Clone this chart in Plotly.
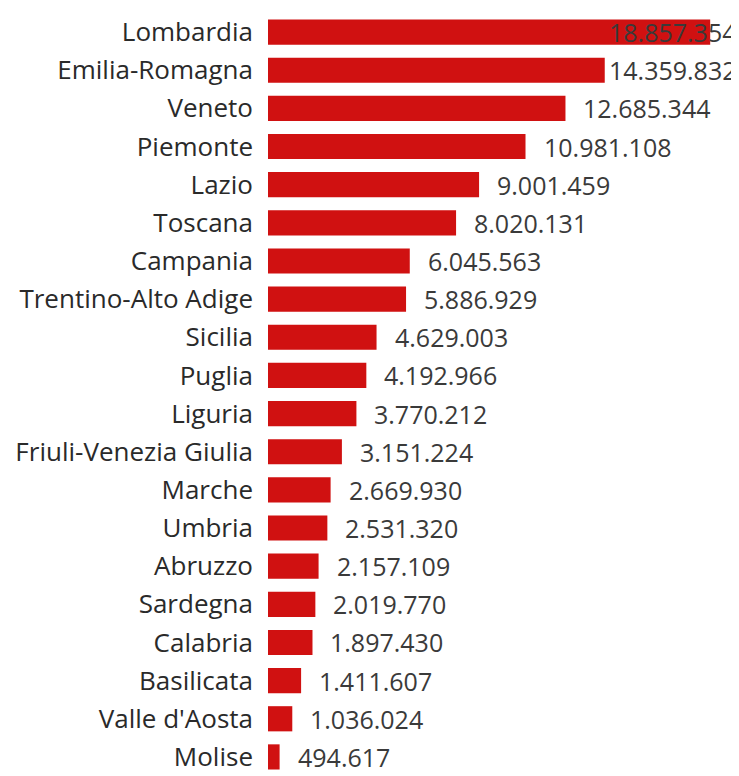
import plotly.graph_objects as go

regions = ["Lombardia", "Emilia-Romagna", "Veneto", "Piemonte", "Lazio", "Toscana",
           "Campania", "Trentino-Alto Adige", "Sicilia", "Puglia", "Liguria",
           "Friuli-Venezia Giulia", "Marche", "Umbria", "Abruzzo", "Sardegna",
           "Calabria", "Basilicata", "Valle d'Aosta", "Molise"]
values = [18857354, 14359832, 12685344, 10981108, 9001459, 8020131,
          6045563, 5886929, 4629003, 4192966, 3770212,
          3151224, 2669930, 2531320, 2157109, 2019770,
          1897430, 1411607, 1036024, 494617]

W, H = 731, 768
ML, MR, MT, MB = 260, 2, 5, 0
XMAX = 20.0e6
FONT = "Segoe UI, Open Sans, sans-serif"
FS = 25
CHAR_W = 13.0


def fmt(v):
    return f"{v:,}".replace(",", ".")


fig = go.Figure(go.Bar(
    x=values, y=regions, orientation="h",
    marker=dict(color="#d01111", line=dict(width=0)),
    width=0.66, hoverinfo="skip",
))

plot_w = W - ML - MR
annotations = []
for r, v in zip(regions, values):
    t = fmt(v)
    px = v / XMAX * plot_w
    if px + 16 + len(t) * CHAR_W > plot_w:
        annotations.append(dict(x=1, xref="paper", y=r, yref="y", text=t,
                                xanchor="right", xshift=2, showarrow=False,
                                font=dict(family=FONT, size=FS, color="#3a3a3a")))
    else:
        annotations.append(dict(x=v, xref="x", y=r, yref="y", text=t,
                                xanchor="left", xshift=16, showarrow=False,
                                font=dict(family=FONT, size=FS, color="#3a3a3a")))

fig.update_layout(
    width=W, height=H,
    margin=dict(l=ML, r=MR, t=MT, b=MB),
    paper_bgcolor="white", plot_bgcolor="white",
    showlegend=False,
    annotations=annotations,
    xaxis=dict(range=[0, XMAX], visible=False, showgrid=False, zeroline=False),
    yaxis=dict(categoryorder="array", categoryarray=regions, autorange="reversed",
               showgrid=False, zeroline=False, ticks="", showline=False,
               ticklabelstandoff=14,
               tickfont=dict(family=FONT, size=26, color="#2a2a2a")),
)

fig.write_html("out.html")
